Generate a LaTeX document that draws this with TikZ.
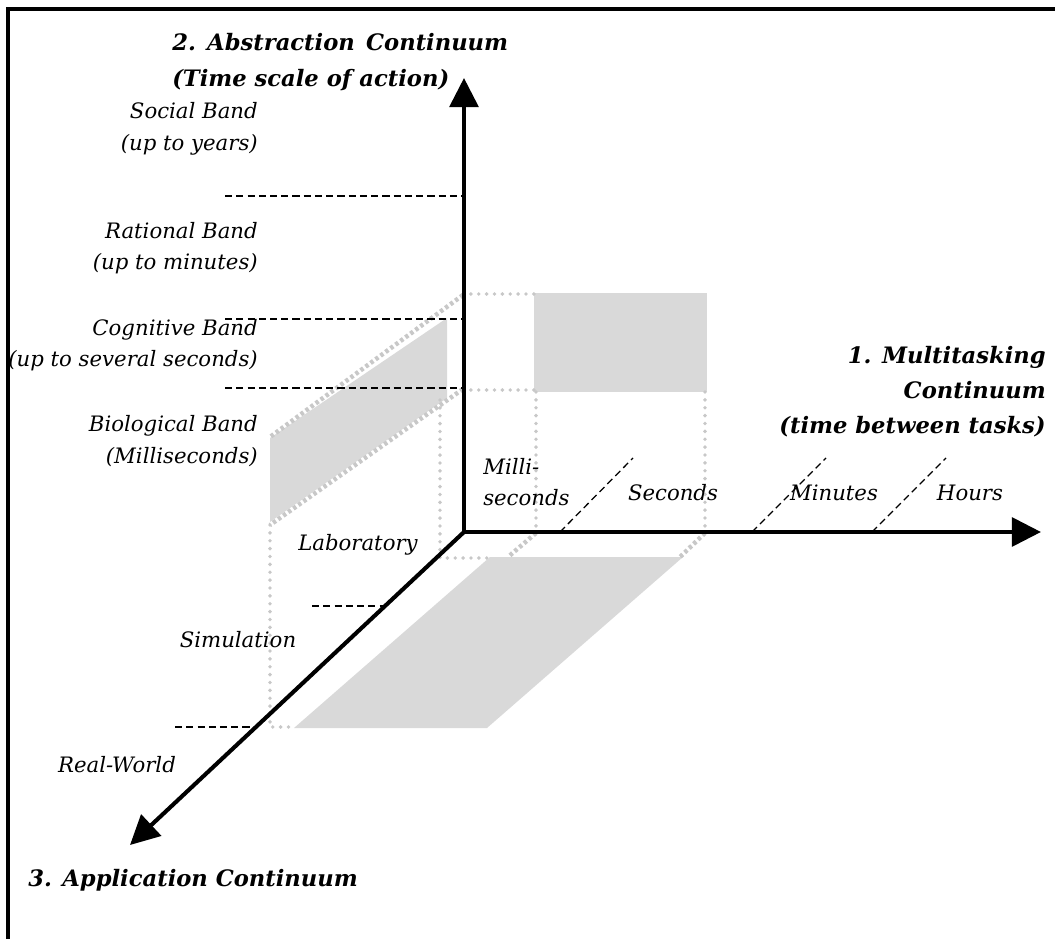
\documentclass[tikz,border=0pt]{standalone}
\usepackage{fontspec}
\setmainfont{DejaVu Serif}
\usetikzlibrary{arrows.meta}
\definecolor{panelgray}{RGB}{217,217,217}
\definecolor{dotgray}{RGB}{200,200,200}
\begin{document}
\begin{tikzpicture}[x=0.025cm,y=-0.025cm]
\tikzset{every node/.style={font=\fontsize{15.1}{22.5}\selectfont\itshape, inner sep=0pt},
  axis/.style={line width=2.9pt, line cap=rect, -{Triangle[length=0.73cm,width=0.72cm]}},
  bandline/.style={line width=0.9pt, dash pattern=on 5pt off 3pt},
  guide/.style={draw=dotgray, line width=2.8pt, line cap=round, dash pattern=on 0pt off 5.6pt},
  bandedge/.style={draw=dotgray, line width=3.2pt, dash pattern=on 2.4pt off 2pt},
  panel/.style={fill=panelgray},
  title/.style={font=\fontsize{16.1}{25}\selectfont\bfseries\itshape}}
\useasboundingbox (0,0) rectangle (1055,939);
\draw[line width=2.2pt] (1055,9) -- (8,9) -- (8,939);

\coordinate (O) at (464,532);
\coordinate (ytip) at (464,78);
\coordinate (xtip) at (1041,532);
\coordinate (ztip) at (130,845);

% shaded regions
\fill[panel] (270,438) -- (447,318) -- (447,398) -- (270,522) -- cycle;
\fill[panel] (534,293) rectangle (707,392);
\fill[panel] (490,557) -- (683,557) -- (487,728) -- (294,728) -- cycle;

\draw[bandedge] (463,295) -- (270,437);
\draw[bandedge] (463,389) -- (270,525);
\draw[bandedge] (536,533) -- (508,557);
\draw[bandedge] (705,533) -- (680,557);
\draw[guide] (463,294) -- (534,294);
\draw[guide] (463,390) -- (534,390);
\draw[guide] (536,392) -- (536,532);
\draw[guide] (705,392) -- (705,532);
\draw[guide] (440,400) -- (440,558) -- (490,558);
\draw[guide] (270,525) -- (270,727) -- (294,727);

% bands
\draw[bandline] (225,196) -- (O |- 0,196);
\draw[bandline] (225,319) -- (O |- 0,319);
\draw[bandline] (225,388) -- (O |- 0,388);
\draw[bandline] (560,532) -- (633,458);
\draw[bandline] (752,532) -- (826,458);
\draw[bandline] (872,532) -- (946,458);
\draw[bandline] (312,606) -- (385,606);
\draw[bandline] (175,727) -- (256,727);

% axes
\draw[axis] (O) -- (ytip);
\draw[axis] (O) -- (xtip);
\draw[axis] (O) -- (ztip);

\node[title, anchor=west, align=left] (abstr) at (172,62) {2.\hspace{0.5em}Abstraction\hspace{0.5em}Continuum\\(Time scale of action)};
\node[title, anchor=east, align=right] (multi) at (1046,392) {1. Multitasking\\Continuum\\(time between tasks)};
\node[title, anchor=west] (appl) at (28,880) {3. Application Continuum};

\node[anchor=east, align=right] (social) at (258,129) {Social Band\\(up to years)};
\node[anchor=east, align=right] (rational) at (258,248) {Rational Band\\(up to minutes)};
\node[anchor=east, align=right] (cognitive) at (258,345) {Cognitive Band\\(up to several seconds)};
\node[anchor=east, align=right] (bio) at (258,441) {Biological Band\\(Milliseconds)};

\node[anchor=west, align=left] (msec) at (483,482) {Milli-\\seconds};
\node (sec) at (673,493) {Seconds};
\node (mins) at (834,493) {Minutes};
\node (hrs) at (970,493) {Hours};

\node (lab) at (358,545) {Laboratory};
\node (sim) at (238,640) {Simulation};
\node (real) at (117,765) {Real-World};
\end{tikzpicture}
\end{document}
